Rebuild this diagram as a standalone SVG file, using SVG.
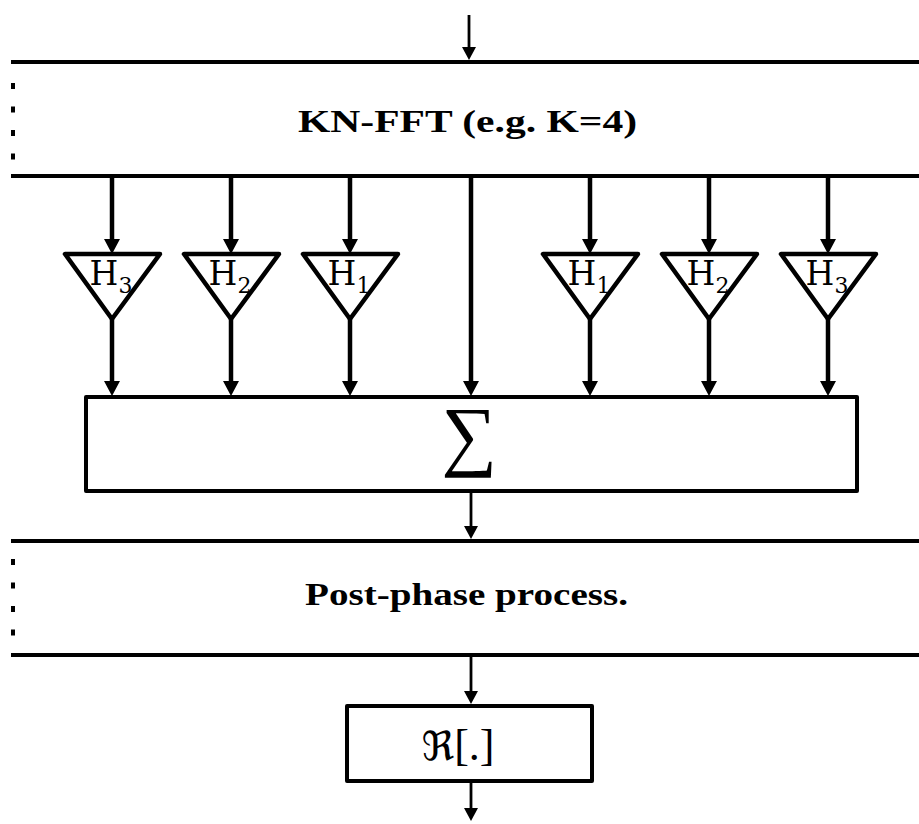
<svg xmlns="http://www.w3.org/2000/svg" width="919" height="824" viewBox="0 0 919 824">
  <style>
    .edge { stroke: #000; stroke-width: 4; fill: none; stroke-linecap: butt; }
    .dash { stroke: #000; stroke-width: 4; fill: none; stroke-dasharray: 6 17.5; }
    .box { stroke: #000; stroke-width: 4; fill: #fff; stroke-linejoin: round; }
    .tri { stroke: #000; stroke-width: 4.5; fill: #fff; stroke-linejoin: round; }
    .thick { stroke: #000; stroke-width: 4.5; fill: none; }
    .thin { stroke: #000; stroke-width: 2.8; fill: none; }
    .lbl { font-family: "Liberation Serif", "DejaVu Serif", serif; font-weight: bold; font-size: 31px; fill: #000; }
    .h { font-family: "DejaVu Serif", "Liberation Serif", serif; font-size: 33px; fill: #000; }
    .sub { font-size: 22px; }
  </style>
  <defs>
    <marker id="ahThick" markerUnits="userSpaceOnUse" viewBox="0 0 16 16" refX="7" refY="8" markerWidth="16" markerHeight="16" orient="auto">
      <path d="M0,0 L15,8 L0,16 z" fill="#000"/>
    </marker>
    <marker id="ahThin" markerUnits="userSpaceOnUse" viewBox="0 0 14 14" refX="6" refY="7" markerWidth="14" markerHeight="14" orient="auto">
      <path d="M0,0 L13,7 L0,14 z" fill="#000"/>
    </marker>
  </defs>

  <g id="node-fft">
    <path class="edge" d="M11,62 H919 M11,176 H919"/>
    <path class="dash" d="M13,83 V160"/>
    <text class="lbl" x="298" y="132" textLength="339" lengthAdjust="spacingAndGlyphs">KN-FFT (e.g. K=4)</text>
  </g>

  <g id="node-h3-left">
    <polygon class="tri" points="65,254 160,254 112,319"/>
    <text class="h" x="111" y="285" text-anchor="middle">H<tspan class="sub" dy="8">3</tspan></text>
  </g>
  <g id="node-h2-left">
    <polygon class="tri" points="184,254 279,254 231,319"/>
    <text class="h" x="230" y="285" text-anchor="middle">H<tspan class="sub" dy="8">2</tspan></text>
  </g>
  <g id="node-h1-left">
    <polygon class="tri" points="303,254 398,254 350,319"/>
    <text class="h" x="349" y="285" text-anchor="middle">H<tspan class="sub" dy="8">1</tspan></text>
  </g>
  <g id="node-h1-right">
    <polygon class="tri" points="543,254 638,254 590,319"/>
    <text class="h" x="589" y="285" text-anchor="middle">H<tspan class="sub" dy="8">1</tspan></text>
  </g>
  <g id="node-h2-right">
    <polygon class="tri" points="662,254 757,254 709,319"/>
    <text class="h" x="708" y="285" text-anchor="middle">H<tspan class="sub" dy="8">2</tspan></text>
  </g>
  <g id="node-h3-right">
    <polygon class="tri" points="781,254 876,254 828,319"/>
    <text class="h" x="827" y="285" text-anchor="middle">H<tspan class="sub" dy="8">3</tspan></text>
  </g>

  <g id="node-sum">
    <rect class="box" x="86" y="397" width="771" height="94"/>
    <text x="469" y="461" text-anchor="middle" font-family="Liberation Serif, DejaVu Serif, serif" font-size="78">∑</text>
  </g>

  <g id="node-post">
    <path class="edge" d="M11,541 H919 M11,655 H919"/>
    <path class="dash" d="M13,559 V637"/>
    <text class="lbl" x="305" y="605" textLength="323" lengthAdjust="spacingAndGlyphs">Post-phase process.</text>
  </g>

  <g id="node-re">
    <rect class="box" x="347" y="706" width="245" height="75"/>
    <text x="458" y="760" text-anchor="middle" font-family="DejaVu Serif, DejaVu Sans, serif" font-size="40"><tspan>ℜ</tspan><tspan font-family="Liberation Serif, serif" font-size="44">[.]</tspan></text>
  </g>

  <g id="connectors">
    <path class="thin" d="M469,15 V53" marker-end="url(#ahThin)"/>
    <path class="thick" d="M112,176 V246" marker-end="url(#ahThick)"/>
    <path class="thick" d="M231,176 V246" marker-end="url(#ahThick)"/>
    <path class="thick" d="M350,176 V246" marker-end="url(#ahThick)"/>
    <path class="thick" d="M590,176 V246" marker-end="url(#ahThick)"/>
    <path class="thick" d="M709,176 V246" marker-end="url(#ahThick)"/>
    <path class="thick" d="M828,176 V246" marker-end="url(#ahThick)"/>
    <path class="thick" d="M112,319 V388" marker-end="url(#ahThick)"/>
    <path class="thick" d="M231,319 V388" marker-end="url(#ahThick)"/>
    <path class="thick" d="M350,319 V388" marker-end="url(#ahThick)"/>
    <path class="thick" d="M471,176 V388" marker-end="url(#ahThick)"/>
    <path class="thick" d="M590,319 V388" marker-end="url(#ahThick)"/>
    <path class="thick" d="M709,319 V388" marker-end="url(#ahThick)"/>
    <path class="thick" d="M828,319 V388" marker-end="url(#ahThick)"/>
    <path class="thin" d="M471,491 V532" marker-end="url(#ahThin)"/>
    <path class="thin" d="M471,655 V697" marker-end="url(#ahThin)"/>
    <path class="thin" d="M471,781 V814" marker-end="url(#ahThin)"/>
  </g>
</svg>
